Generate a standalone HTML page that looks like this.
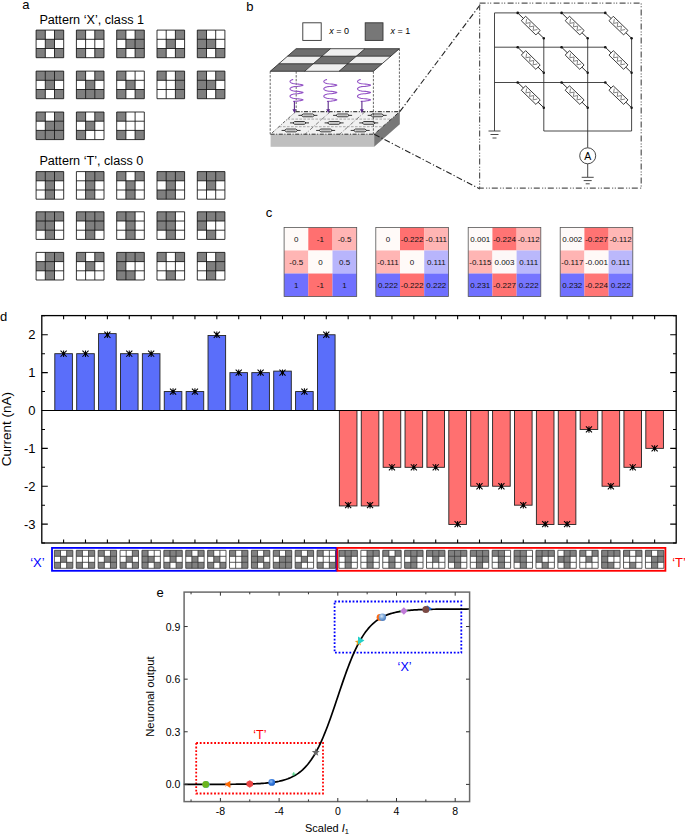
<!DOCTYPE html><html><head><meta charset="utf-8"><style>html,body{margin:0;padding:0;background:#fff;width:685px;height:835px;overflow:hidden}svg{display:block}text{font-family:"Liberation Sans", sans-serif}</style></head><body>
<svg width="685" height="835" viewBox="0 0 685 835">
<rect width="685" height="835" fill="#fff"/>
<text x="22.3" y="8.5" font-size="13">a</text>
<text x="39.4" y="23.6" font-size="12.65">Pattern ‘X’, class 1</text>
<text x="39.4" y="164.8" font-size="12.65">Pattern ‘T’, class 0</text>
<rect x="36.10" y="30.10" width="9.20" height="9.20" fill="#7f7f7f"/><rect x="54.50" y="30.10" width="9.20" height="9.20" fill="#7f7f7f"/><rect x="45.30" y="39.30" width="9.20" height="9.20" fill="#7f7f7f"/><rect x="36.10" y="48.50" width="9.20" height="9.20" fill="#7f7f7f"/><rect x="54.50" y="48.50" width="9.20" height="9.20" fill="#7f7f7f"/><path d="M36.10 30.10H63.70M36.10 30.10V57.70M36.10 39.30H63.70M45.30 30.10V57.70M36.10 48.50H63.70M54.50 30.10V57.70M36.10 57.70H63.70M63.70 30.10V57.70" stroke="#111" stroke-width="0.85" fill="none"/>
<rect x="76.40" y="30.10" width="9.20" height="9.20" fill="#7f7f7f"/><rect x="94.80" y="30.10" width="9.20" height="9.20" fill="#7f7f7f"/><rect x="76.40" y="48.50" width="9.20" height="9.20" fill="#7f7f7f"/><rect x="94.80" y="48.50" width="9.20" height="9.20" fill="#7f7f7f"/><path d="M76.40 30.10H104.00M76.40 30.10V57.70M76.40 39.30H104.00M85.60 30.10V57.70M76.40 48.50H104.00M94.80 30.10V57.70M76.40 57.70H104.00M104.00 30.10V57.70" stroke="#111" stroke-width="0.85" fill="none"/>
<rect x="116.70" y="30.10" width="9.20" height="9.20" fill="#7f7f7f"/><rect x="135.10" y="30.10" width="9.20" height="9.20" fill="#7f7f7f"/><rect x="125.90" y="39.30" width="9.20" height="9.20" fill="#7f7f7f"/><rect x="135.10" y="39.30" width="9.20" height="9.20" fill="#7f7f7f"/><rect x="116.70" y="48.50" width="9.20" height="9.20" fill="#7f7f7f"/><rect x="135.10" y="48.50" width="9.20" height="9.20" fill="#7f7f7f"/><path d="M116.70 30.10H144.30M116.70 30.10V57.70M116.70 39.30H144.30M125.90 30.10V57.70M116.70 48.50H144.30M135.10 30.10V57.70M116.70 57.70H144.30M144.30 30.10V57.70" stroke="#111" stroke-width="0.85" fill="none"/>
<rect x="175.40" y="30.10" width="9.20" height="9.20" fill="#7f7f7f"/><rect x="166.20" y="39.30" width="9.20" height="9.20" fill="#7f7f7f"/><rect x="157.00" y="48.50" width="9.20" height="9.20" fill="#7f7f7f"/><rect x="175.40" y="48.50" width="9.20" height="9.20" fill="#7f7f7f"/><path d="M157.00 30.10H184.60M157.00 30.10V57.70M157.00 39.30H184.60M166.20 30.10V57.70M157.00 48.50H184.60M175.40 30.10V57.70M157.00 57.70H184.60M184.60 30.10V57.70" stroke="#111" stroke-width="0.85" fill="none"/>
<rect x="197.30" y="30.10" width="9.20" height="9.20" fill="#7f7f7f"/><rect x="197.30" y="39.30" width="9.20" height="9.20" fill="#7f7f7f"/><rect x="206.50" y="39.30" width="9.20" height="9.20" fill="#7f7f7f"/><rect x="197.30" y="48.50" width="9.20" height="9.20" fill="#7f7f7f"/><rect x="215.70" y="48.50" width="9.20" height="9.20" fill="#7f7f7f"/><path d="M197.30 30.10H224.90M197.30 30.10V57.70M197.30 39.30H224.90M206.50 30.10V57.70M197.30 48.50H224.90M215.70 30.10V57.70M197.30 57.70H224.90M224.90 30.10V57.70" stroke="#111" stroke-width="0.85" fill="none"/>
<rect x="36.10" y="71.10" width="9.20" height="9.20" fill="#7f7f7f"/><rect x="45.30" y="71.10" width="9.20" height="9.20" fill="#7f7f7f"/><rect x="54.50" y="71.10" width="9.20" height="9.20" fill="#7f7f7f"/><rect x="45.30" y="80.30" width="9.20" height="9.20" fill="#7f7f7f"/><rect x="36.10" y="89.50" width="9.20" height="9.20" fill="#7f7f7f"/><rect x="54.50" y="89.50" width="9.20" height="9.20" fill="#7f7f7f"/><path d="M36.10 71.10H63.70M36.10 71.10V98.70M36.10 80.30H63.70M45.30 71.10V98.70M36.10 89.50H63.70M54.50 71.10V98.70M36.10 98.70H63.70M63.70 71.10V98.70" stroke="#111" stroke-width="0.85" fill="none"/>
<rect x="76.40" y="71.10" width="9.20" height="9.20" fill="#7f7f7f"/><rect x="94.80" y="71.10" width="9.20" height="9.20" fill="#7f7f7f"/><rect x="85.60" y="80.30" width="9.20" height="9.20" fill="#7f7f7f"/><rect x="76.40" y="89.50" width="9.20" height="9.20" fill="#7f7f7f"/><rect x="85.60" y="89.50" width="9.20" height="9.20" fill="#7f7f7f"/><rect x="94.80" y="89.50" width="9.20" height="9.20" fill="#7f7f7f"/><path d="M76.40 71.10H104.00M76.40 71.10V98.70M76.40 80.30H104.00M85.60 71.10V98.70M76.40 89.50H104.00M94.80 71.10V98.70M76.40 98.70H104.00M104.00 71.10V98.70" stroke="#111" stroke-width="0.85" fill="none"/>
<rect x="116.70" y="71.10" width="9.20" height="9.20" fill="#7f7f7f"/><rect x="125.90" y="80.30" width="9.20" height="9.20" fill="#7f7f7f"/><rect x="116.70" y="89.50" width="9.20" height="9.20" fill="#7f7f7f"/><rect x="135.10" y="89.50" width="9.20" height="9.20" fill="#7f7f7f"/><path d="M116.70 71.10H144.30M116.70 71.10V98.70M116.70 80.30H144.30M125.90 71.10V98.70M116.70 89.50H144.30M135.10 71.10V98.70M116.70 98.70H144.30M144.30 71.10V98.70" stroke="#111" stroke-width="0.85" fill="none"/>
<rect x="157.00" y="71.10" width="9.20" height="9.20" fill="#7f7f7f"/><rect x="175.40" y="71.10" width="9.20" height="9.20" fill="#7f7f7f"/><rect x="175.40" y="80.30" width="9.20" height="9.20" fill="#7f7f7f"/><rect x="175.40" y="89.50" width="9.20" height="9.20" fill="#7f7f7f"/><path d="M157.00 71.10H184.60M157.00 71.10V98.70M157.00 80.30H184.60M166.20 71.10V98.70M157.00 89.50H184.60M175.40 71.10V98.70M157.00 98.70H184.60M184.60 71.10V98.70" stroke="#111" stroke-width="0.85" fill="none"/>
<rect x="197.30" y="71.10" width="9.20" height="9.20" fill="#7f7f7f"/><rect x="215.70" y="71.10" width="9.20" height="9.20" fill="#7f7f7f"/><rect x="197.30" y="80.30" width="9.20" height="9.20" fill="#7f7f7f"/><rect x="206.50" y="80.30" width="9.20" height="9.20" fill="#7f7f7f"/><rect x="197.30" y="89.50" width="9.20" height="9.20" fill="#7f7f7f"/><rect x="215.70" y="89.50" width="9.20" height="9.20" fill="#7f7f7f"/><path d="M197.30 71.10H224.90M197.30 71.10V98.70M197.30 80.30H224.90M206.50 71.10V98.70M197.30 89.50H224.90M215.70 71.10V98.70M197.30 98.70H224.90M224.90 71.10V98.70" stroke="#111" stroke-width="0.85" fill="none"/>
<rect x="36.10" y="112.00" width="9.20" height="9.20" fill="#7f7f7f"/><rect x="54.50" y="112.00" width="9.20" height="9.20" fill="#7f7f7f"/><rect x="45.30" y="121.20" width="9.20" height="9.20" fill="#7f7f7f"/><rect x="54.50" y="121.20" width="9.20" height="9.20" fill="#7f7f7f"/><rect x="36.10" y="130.40" width="9.20" height="9.20" fill="#7f7f7f"/><rect x="45.30" y="130.40" width="9.20" height="9.20" fill="#7f7f7f"/><rect x="54.50" y="130.40" width="9.20" height="9.20" fill="#7f7f7f"/><path d="M36.10 112.00H63.70M36.10 112.00V139.60M36.10 121.20H63.70M45.30 112.00V139.60M36.10 130.40H63.70M54.50 112.00V139.60M36.10 139.60H63.70M63.70 112.00V139.60" stroke="#111" stroke-width="0.85" fill="none"/>
<rect x="76.40" y="112.00" width="9.20" height="9.20" fill="#7f7f7f"/><rect x="94.80" y="112.00" width="9.20" height="9.20" fill="#7f7f7f"/><rect x="85.60" y="121.20" width="9.20" height="9.20" fill="#7f7f7f"/><rect x="76.40" y="130.40" width="9.20" height="9.20" fill="#7f7f7f"/><path d="M76.40 112.00H104.00M76.40 112.00V139.60M76.40 121.20H104.00M85.60 112.00V139.60M76.40 130.40H104.00M94.80 112.00V139.60M76.40 139.60H104.00M104.00 112.00V139.60" stroke="#111" stroke-width="0.85" fill="none"/>
<rect x="116.70" y="112.00" width="9.20" height="9.20" fill="#7f7f7f"/><rect x="116.70" y="130.40" width="9.20" height="9.20" fill="#7f7f7f"/><rect x="135.10" y="130.40" width="9.20" height="9.20" fill="#7f7f7f"/><path d="M116.70 112.00H144.30M116.70 112.00V139.60M116.70 121.20H144.30M125.90 112.00V139.60M116.70 130.40H144.30M135.10 112.00V139.60M116.70 139.60H144.30M144.30 112.00V139.60" stroke="#111" stroke-width="0.85" fill="none"/>
<rect x="36.10" y="171.60" width="9.20" height="9.20" fill="#7f7f7f"/><rect x="45.30" y="171.60" width="9.20" height="9.20" fill="#7f7f7f"/><rect x="54.50" y="171.60" width="9.20" height="9.20" fill="#7f7f7f"/><rect x="45.30" y="180.80" width="9.20" height="9.20" fill="#7f7f7f"/><rect x="45.30" y="190.00" width="9.20" height="9.20" fill="#7f7f7f"/><path d="M36.10 171.60H63.70M36.10 171.60V199.20M36.10 180.80H63.70M45.30 171.60V199.20M36.10 190.00H63.70M54.50 171.60V199.20M36.10 199.20H63.70M63.70 171.60V199.20" stroke="#111" stroke-width="0.85" fill="none"/>
<rect x="85.60" y="171.60" width="9.20" height="9.20" fill="#7f7f7f"/><rect x="94.80" y="171.60" width="9.20" height="9.20" fill="#7f7f7f"/><rect x="85.60" y="180.80" width="9.20" height="9.20" fill="#7f7f7f"/><rect x="85.60" y="190.00" width="9.20" height="9.20" fill="#7f7f7f"/><path d="M76.40 171.60H104.00M76.40 171.60V199.20M76.40 180.80H104.00M85.60 171.60V199.20M76.40 190.00H104.00M94.80 171.60V199.20M76.40 199.20H104.00M104.00 171.60V199.20" stroke="#111" stroke-width="0.85" fill="none"/>
<rect x="116.70" y="171.60" width="9.20" height="9.20" fill="#7f7f7f"/><rect x="135.10" y="171.60" width="9.20" height="9.20" fill="#7f7f7f"/><rect x="125.90" y="180.80" width="9.20" height="9.20" fill="#7f7f7f"/><rect x="125.90" y="190.00" width="9.20" height="9.20" fill="#7f7f7f"/><path d="M116.70 171.60H144.30M116.70 171.60V199.20M116.70 180.80H144.30M125.90 171.60V199.20M116.70 190.00H144.30M135.10 171.60V199.20M116.70 199.20H144.30M144.30 171.60V199.20" stroke="#111" stroke-width="0.85" fill="none"/>
<rect x="157.00" y="171.60" width="9.20" height="9.20" fill="#7f7f7f"/><rect x="166.20" y="171.60" width="9.20" height="9.20" fill="#7f7f7f"/><rect x="175.40" y="171.60" width="9.20" height="9.20" fill="#7f7f7f"/><rect x="166.20" y="180.80" width="9.20" height="9.20" fill="#7f7f7f"/><rect x="157.00" y="190.00" width="9.20" height="9.20" fill="#7f7f7f"/><rect x="166.20" y="190.00" width="9.20" height="9.20" fill="#7f7f7f"/><path d="M157.00 171.60H184.60M157.00 171.60V199.20M157.00 180.80H184.60M166.20 171.60V199.20M157.00 190.00H184.60M175.40 171.60V199.20M157.00 199.20H184.60M184.60 171.60V199.20" stroke="#111" stroke-width="0.85" fill="none"/>
<rect x="197.30" y="171.60" width="9.20" height="9.20" fill="#7f7f7f"/><rect x="206.50" y="171.60" width="9.20" height="9.20" fill="#7f7f7f"/><rect x="215.70" y="171.60" width="9.20" height="9.20" fill="#7f7f7f"/><rect x="206.50" y="180.80" width="9.20" height="9.20" fill="#7f7f7f"/><path d="M197.30 171.60H224.90M197.30 171.60V199.20M197.30 180.80H224.90M206.50 171.60V199.20M197.30 190.00H224.90M215.70 171.60V199.20M197.30 199.20H224.90M224.90 171.60V199.20" stroke="#111" stroke-width="0.85" fill="none"/>
<rect x="36.10" y="211.80" width="9.20" height="9.20" fill="#7f7f7f"/><rect x="45.30" y="211.80" width="9.20" height="9.20" fill="#7f7f7f"/><rect x="54.50" y="211.80" width="9.20" height="9.20" fill="#7f7f7f"/><rect x="36.10" y="221.00" width="9.20" height="9.20" fill="#7f7f7f"/><rect x="45.30" y="221.00" width="9.20" height="9.20" fill="#7f7f7f"/><rect x="45.30" y="230.20" width="9.20" height="9.20" fill="#7f7f7f"/><path d="M36.10 211.80H63.70M36.10 211.80V239.40M36.10 221.00H63.70M45.30 211.80V239.40M36.10 230.20H63.70M54.50 211.80V239.40M36.10 239.40H63.70M63.70 211.80V239.40" stroke="#111" stroke-width="0.85" fill="none"/>
<rect x="76.40" y="211.80" width="9.20" height="9.20" fill="#7f7f7f"/><rect x="85.60" y="211.80" width="9.20" height="9.20" fill="#7f7f7f"/><rect x="94.80" y="211.80" width="9.20" height="9.20" fill="#7f7f7f"/><rect x="85.60" y="221.00" width="9.20" height="9.20" fill="#7f7f7f"/><rect x="94.80" y="221.00" width="9.20" height="9.20" fill="#7f7f7f"/><rect x="85.60" y="230.20" width="9.20" height="9.20" fill="#7f7f7f"/><path d="M76.40 211.80H104.00M76.40 211.80V239.40M76.40 221.00H104.00M85.60 211.80V239.40M76.40 230.20H104.00M94.80 211.80V239.40M76.40 239.40H104.00M104.00 211.80V239.40" stroke="#111" stroke-width="0.85" fill="none"/>
<rect x="116.70" y="211.80" width="9.20" height="9.20" fill="#7f7f7f"/><rect x="125.90" y="211.80" width="9.20" height="9.20" fill="#7f7f7f"/><rect x="125.90" y="221.00" width="9.20" height="9.20" fill="#7f7f7f"/><rect x="125.90" y="230.20" width="9.20" height="9.20" fill="#7f7f7f"/><path d="M116.70 211.80H144.30M116.70 211.80V239.40M116.70 221.00H144.30M125.90 211.80V239.40M116.70 230.20H144.30M135.10 211.80V239.40M116.70 239.40H144.30M144.30 211.80V239.40" stroke="#111" stroke-width="0.85" fill="none"/>
<rect x="157.00" y="211.80" width="9.20" height="9.20" fill="#7f7f7f"/><rect x="166.20" y="211.80" width="9.20" height="9.20" fill="#7f7f7f"/><rect x="157.00" y="221.00" width="9.20" height="9.20" fill="#7f7f7f"/><rect x="166.20" y="221.00" width="9.20" height="9.20" fill="#7f7f7f"/><rect x="166.20" y="230.20" width="9.20" height="9.20" fill="#7f7f7f"/><path d="M157.00 211.80H184.60M157.00 211.80V239.40M157.00 221.00H184.60M166.20 211.80V239.40M157.00 230.20H184.60M175.40 211.80V239.40M157.00 239.40H184.60M184.60 211.80V239.40" stroke="#111" stroke-width="0.85" fill="none"/>
<rect x="197.30" y="211.80" width="9.20" height="9.20" fill="#7f7f7f"/><rect x="206.50" y="211.80" width="9.20" height="9.20" fill="#7f7f7f"/><rect x="215.70" y="211.80" width="9.20" height="9.20" fill="#7f7f7f"/><rect x="197.30" y="221.00" width="9.20" height="9.20" fill="#7f7f7f"/><rect x="206.50" y="230.20" width="9.20" height="9.20" fill="#7f7f7f"/><path d="M197.30 211.80H224.90M197.30 211.80V239.40M197.30 221.00H224.90M206.50 211.80V239.40M197.30 230.20H224.90M215.70 211.80V239.40M197.30 239.40H224.90M224.90 211.80V239.40" stroke="#111" stroke-width="0.85" fill="none"/>
<rect x="45.30" y="252.40" width="9.20" height="9.20" fill="#7f7f7f"/><rect x="54.50" y="252.40" width="9.20" height="9.20" fill="#7f7f7f"/><rect x="36.10" y="261.60" width="9.20" height="9.20" fill="#7f7f7f"/><rect x="45.30" y="261.60" width="9.20" height="9.20" fill="#7f7f7f"/><rect x="45.30" y="270.80" width="9.20" height="9.20" fill="#7f7f7f"/><path d="M36.10 252.40H63.70M36.10 252.40V280.00M36.10 261.60H63.70M45.30 252.40V280.00M36.10 270.80H63.70M54.50 252.40V280.00M36.10 280.00H63.70M63.70 252.40V280.00" stroke="#111" stroke-width="0.85" fill="none"/>
<rect x="76.40" y="252.40" width="9.20" height="9.20" fill="#7f7f7f"/><rect x="94.80" y="252.40" width="9.20" height="9.20" fill="#7f7f7f"/><rect x="85.60" y="261.60" width="9.20" height="9.20" fill="#7f7f7f"/><path d="M76.40 252.40H104.00M76.40 252.40V280.00M76.40 261.60H104.00M85.60 252.40V280.00M76.40 270.80H104.00M94.80 252.40V280.00M76.40 280.00H104.00M104.00 252.40V280.00" stroke="#111" stroke-width="0.85" fill="none"/>
<rect x="116.70" y="252.40" width="9.20" height="9.20" fill="#7f7f7f"/><rect x="125.90" y="252.40" width="9.20" height="9.20" fill="#7f7f7f"/><rect x="135.10" y="252.40" width="9.20" height="9.20" fill="#7f7f7f"/><rect x="116.70" y="261.60" width="9.20" height="9.20" fill="#7f7f7f"/><rect x="116.70" y="270.80" width="9.20" height="9.20" fill="#7f7f7f"/><rect x="125.90" y="270.80" width="9.20" height="9.20" fill="#7f7f7f"/><path d="M116.70 252.40H144.30M116.70 252.40V280.00M116.70 261.60H144.30M125.90 252.40V280.00M116.70 270.80H144.30M135.10 252.40V280.00M116.70 280.00H144.30M144.30 252.40V280.00" stroke="#111" stroke-width="0.85" fill="none"/>
<rect x="157.00" y="252.40" width="9.20" height="9.20" fill="#7f7f7f"/><rect x="175.40" y="252.40" width="9.20" height="9.20" fill="#7f7f7f"/><rect x="166.20" y="270.80" width="9.20" height="9.20" fill="#7f7f7f"/><path d="M157.00 252.40H184.60M157.00 252.40V280.00M157.00 261.60H184.60M166.20 252.40V280.00M157.00 270.80H184.60M175.40 252.40V280.00M157.00 280.00H184.60M184.60 252.40V280.00" stroke="#111" stroke-width="0.85" fill="none"/>
<rect x="197.30" y="252.40" width="9.20" height="9.20" fill="#7f7f7f"/><rect x="215.70" y="252.40" width="9.20" height="9.20" fill="#7f7f7f"/><rect x="206.50" y="261.60" width="9.20" height="9.20" fill="#7f7f7f"/><rect x="215.70" y="261.60" width="9.20" height="9.20" fill="#7f7f7f"/><rect x="206.50" y="270.80" width="9.20" height="9.20" fill="#7f7f7f"/><path d="M197.30 252.40H224.90M197.30 252.40V280.00M197.30 261.60H224.90M206.50 252.40V280.00M197.30 270.80H224.90M215.70 252.40V280.00M197.30 280.00H224.90M224.90 252.40V280.00" stroke="#111" stroke-width="0.85" fill="none"/>
<text x="246.2" y="10.6" font-size="13">b</text>
<rect x="302.8" y="22.8" width="18.4" height="17.6" fill="#fff" stroke="#333" stroke-width="0.9"/>
<rect x="365.2" y="22.8" width="17.8" height="17.6" fill="#777" stroke="#333" stroke-width="0.9"/>
<text x="329.3" y="34.3" font-size="9"><tspan font-style="italic">x</tspan> = 0</text>
<text x="390.4" y="34.3" font-size="9"><tspan font-style="italic">x</tspan> = 1</text>
<polygon points="296.10,48.70 330.53,48.70 321.89,56.23 287.47,56.23" fill="#6e6e6e"/>
<polygon points="330.53,48.70 364.97,48.70 356.31,56.23 321.89,56.23" fill="#efefef"/>
<polygon points="364.97,48.70 399.40,48.70 390.73,56.23 356.31,56.23" fill="#6e6e6e"/>
<polygon points="287.47,56.23 321.89,56.23 313.24,63.77 278.83,63.77" fill="#efefef"/>
<polygon points="321.89,56.23 356.31,56.23 347.66,63.77 313.24,63.77" fill="#6e6e6e"/>
<polygon points="356.31,56.23 390.73,56.23 382.07,63.77 347.66,63.77" fill="#efefef"/>
<polygon points="278.83,63.77 313.24,63.77 304.60,71.30 270.20,71.30" fill="#6e6e6e"/>
<polygon points="313.24,63.77 347.66,63.77 339.00,71.30 304.60,71.30" fill="#efefef"/>
<polygon points="347.66,63.77 382.07,63.77 373.40,71.30 339.00,71.30" fill="#6e6e6e"/>
<path d="M296.10 48.70L399.40 48.70M296.10 48.70L270.20 71.30M287.47 56.23L390.73 56.23M330.53 48.70L304.60 71.30M278.83 63.77L382.07 63.77M364.97 48.70L339.00 71.30M270.20 71.30L373.40 71.30M399.40 48.70L373.40 71.30" stroke="#222" stroke-width="0.8" fill="none"/>
<polygon points="295.8,111.6 399.8,111.6 374.2,134.2 270.6,134.2" fill="#f1f1f1"/>
<rect x="270.6" y="134.2" width="103.6" height="12.6" fill="#bfbfbf"/>
<polygon points="374.2,134.2 399.8,111.6 399.8,124.3 374.2,146.8" fill="#787878"/>
<path d="M287.40 119.13L391.27 119.13M279.00 126.67L382.73 126.67" stroke="#b8b8b8" stroke-width="1.4" stroke-dasharray="2.6 1.4" fill="none"/>
<path d="M330.47 111.60L305.13 134.20M365.13 111.60L339.67 134.20" stroke="#333" stroke-width="0.6" stroke-dasharray="4 1.5 0.8 1.5" fill="none"/>
<path d="M298.42 115.37H317.42" stroke="#222" stroke-width="0.9"/>
<polygon points="301.42,115.37 303.12,113.97 312.72,113.97 314.42,115.37 312.72,116.77 303.12,116.77" fill="#e4e4e4" stroke="#111" stroke-width="0.8"/>
<path d="M303.42 115.37H312.42" stroke="#999" stroke-width="0.5"/>
<path d="M333.07 115.37H352.07" stroke="#222" stroke-width="0.9"/>
<polygon points="336.07,115.37 337.77,113.97 347.37,113.97 349.07,115.37 347.37,116.77 337.77,116.77" fill="#e4e4e4" stroke="#111" stroke-width="0.8"/>
<path d="M338.07 115.37H347.07" stroke="#999" stroke-width="0.5"/>
<path d="M367.71 115.37H386.71" stroke="#222" stroke-width="0.9"/>
<polygon points="370.71,115.37 372.41,113.97 382.01,113.97 383.71,115.37 382.01,116.77 372.41,116.77" fill="#e4e4e4" stroke="#111" stroke-width="0.8"/>
<path d="M372.71 115.37H381.71" stroke="#999" stroke-width="0.5"/>
<path d="M290.00 122.90H309.00" stroke="#222" stroke-width="0.9"/>
<polygon points="293.00,122.90 294.70,121.50 304.30,121.50 306.00,122.90 304.30,124.30 294.70,124.30" fill="#e4e4e4" stroke="#111" stroke-width="0.8"/>
<path d="M295.00 122.90H304.00" stroke="#999" stroke-width="0.5"/>
<path d="M324.60 122.90H343.60" stroke="#222" stroke-width="0.9"/>
<polygon points="327.60,122.90 329.30,121.50 338.90,121.50 340.60,122.90 338.90,124.30 329.30,124.30" fill="#e4e4e4" stroke="#111" stroke-width="0.8"/>
<path d="M329.60 122.90H338.60" stroke="#999" stroke-width="0.5"/>
<path d="M359.20 122.90H378.20" stroke="#222" stroke-width="0.9"/>
<polygon points="362.20,122.90 363.90,121.50 373.50,121.50 375.20,122.90 373.50,124.30 363.90,124.30" fill="#e4e4e4" stroke="#111" stroke-width="0.8"/>
<path d="M364.20 122.90H373.20" stroke="#999" stroke-width="0.5"/>
<path d="M281.58 130.43H300.58" stroke="#222" stroke-width="0.9"/>
<polygon points="284.58,130.43 286.28,129.03 295.88,129.03 297.58,130.43 295.88,131.83 286.28,131.83" fill="#e4e4e4" stroke="#111" stroke-width="0.8"/>
<path d="M286.58 130.43H295.58" stroke="#999" stroke-width="0.5"/>
<path d="M316.13 130.43H335.13" stroke="#222" stroke-width="0.9"/>
<polygon points="319.13,130.43 320.83,129.03 330.43,129.03 332.13,130.43 330.43,131.83 320.83,131.83" fill="#e4e4e4" stroke="#111" stroke-width="0.8"/>
<path d="M321.13 130.43H330.13" stroke="#999" stroke-width="0.5"/>
<path d="M350.69 130.43H369.69" stroke="#222" stroke-width="0.9"/>
<polygon points="353.69,130.43 355.39,129.03 364.99,129.03 366.69,130.43 364.99,131.83 355.39,131.83" fill="#e4e4e4" stroke="#111" stroke-width="0.8"/>
<path d="M355.69 130.43H364.69" stroke="#999" stroke-width="0.5"/>
<path d="M295.8 111.6L399.8 111.6" stroke="#444" stroke-width="1.3" stroke-dasharray="4 1.6 1 1.6" fill="none"/>
<path d="M270.6 134.2L374.2 134.2 L399.8 111.6" stroke="#333" stroke-width="1" stroke-dasharray="4 1.6 1 1.6" fill="none"/>
<path d="M295.8 111.6L270.6 134.2" stroke="#333" stroke-width="0.8" stroke-dasharray="3 1.6 1 1.6" fill="none"/>
<path d="M270.2 71.3V134.2M373.4 71.3V134.2M296.2 71.3V111.6M399.4 48.7V111.6" stroke="#333" stroke-width="0.75" stroke-dasharray="2.4 1.4" fill="none"/>
<path d="M293.19 79.48 L292.56 79.65 L292.03 79.82 L291.56 80.00 L291.17 80.18 L290.83 80.37 L290.56 80.57 L290.34 80.77 L290.17 80.98 L290.06 81.18 L290.01 81.39 L290.01 81.60 L290.06 81.81 L290.17 82.01 L290.33 82.22 L290.54 82.42 L290.82 82.62 L291.15 82.81 L291.54 82.99 L292.00 83.17 L292.53 83.35 L293.16 83.51 L293.90 83.67 L294.86 83.82 L297.06 83.96 L298.45 84.09 L299.33 84.21 L300.03 84.33 L300.63 84.44 L301.14 84.54 L301.57 84.63 L301.95 84.72 L302.26 84.80 L302.52 84.88 L302.72 84.96 L302.87 85.03 L302.96 85.10 L303.00 85.16 L302.98 85.23 L302.91 85.30 L302.79 85.37 L302.61 85.44 L302.37 85.52 L302.08 85.60 L301.73 85.68 L301.31 85.77 L300.83 85.87 L300.27 85.98 L299.61 86.09 L298.81 86.21 L297.72 86.34 L295.35 86.48 L294.23 86.63 L293.42 86.78 L292.76 86.94 L292.20 87.11 L291.71 87.29 L291.29 87.47 L290.94 87.66 L290.64 87.86 L290.40 88.06 L290.22 88.26 L290.09 88.46 L290.02 88.67 L290.00 88.88 L290.04 89.09 L290.12 89.30 L290.27 89.50 L290.47 89.70 L290.72 89.90 L291.03 90.10 L291.40 90.28 L291.84 90.46 L292.35 90.64 L292.94 90.81 L293.63 90.97 L294.50 91.12 L295.83 91.26 L298.08 91.40 L299.06 91.52 L299.81 91.64 L300.44 91.75 L300.97 91.86 L301.44 91.95 L301.83 92.04 L302.17 92.13 L302.44 92.21 L302.66 92.28 L302.83 92.35 L302.94 92.42 L302.99 92.49 L302.99 92.56 L302.94 92.63 L302.83 92.70 L302.67 92.77 L302.46 92.84 L302.18 92.92 L301.85 93.00 L301.46 93.09 L301.00 93.19 L300.47 93.29 L299.84 93.40 L299.10 93.52 L298.14 93.65 L295.94 93.78 L294.55 93.93 L293.67 94.08 L292.97 94.24 L292.37 94.41 L291.86 94.58 L291.43 94.76 L291.05 94.95 L290.74 95.14 L290.48 95.34 L290.28 95.54 L290.13 95.75 L290.04 95.95 L290.00 96.16 L290.02 96.37 L290.09 96.58 L290.21 96.78 L290.39 96.99 L290.63 97.19 L290.92 97.38 L291.27 97.57 L291.69 97.76 L292.17 97.93 L292.73 98.10 L293.39 98.27 L294.19 98.42 L295.28 98.57 L297.65 98.70 L298.77 98.83 L299.58 98.96 L300.24 99.07 L300.80 99.18 L301.29 99.27 L301.71 99.37 L302.06 99.45 L302.36 99.53 L302.60 99.61 L302.78 99.68 L302.91 99.75 L302.98 99.82 L303.00 99.89 L302.96 99.96 L302.88 100.02 L302.73 100.09 L302.53 100.17 L302.28 100.25 L301.97 100.33 L301.60 100.42 L301.16 100.51 L300.65 100.61 L300.06 100.72 L299.37 100.83 L298.50 100.96 L297.17 101.09 L294.92 101.23 L293.94 101.38 L293.19 101.54" stroke="#9454c6" stroke-width="1.1" fill="none"/>
<path d="M294.40 101.24V110.50" stroke="#5a2a88" stroke-width="1.1"/>
<polygon points="292.40,109.20 296.40,109.20 294.40,113.00" fill="#5a2a88"/>
<path d="M326.99 79.48 L326.36 79.65 L325.83 79.82 L325.36 80.00 L324.97 80.18 L324.63 80.37 L324.36 80.57 L324.14 80.77 L323.97 80.98 L323.86 81.18 L323.81 81.39 L323.81 81.60 L323.86 81.81 L323.97 82.01 L324.13 82.22 L324.34 82.42 L324.62 82.62 L324.95 82.81 L325.34 82.99 L325.80 83.17 L326.33 83.35 L326.96 83.51 L327.70 83.67 L328.66 83.82 L330.86 83.96 L332.25 84.09 L333.13 84.21 L333.83 84.33 L334.43 84.44 L334.94 84.54 L335.37 84.63 L335.75 84.72 L336.06 84.80 L336.32 84.88 L336.52 84.96 L336.67 85.03 L336.76 85.10 L336.80 85.16 L336.78 85.23 L336.71 85.30 L336.59 85.37 L336.41 85.44 L336.17 85.52 L335.88 85.60 L335.53 85.68 L335.11 85.77 L334.63 85.87 L334.07 85.98 L333.41 86.09 L332.61 86.21 L331.52 86.34 L329.15 86.48 L328.03 86.63 L327.22 86.78 L326.56 86.94 L326.00 87.11 L325.51 87.29 L325.09 87.47 L324.74 87.66 L324.44 87.86 L324.20 88.06 L324.02 88.26 L323.89 88.46 L323.82 88.67 L323.80 88.88 L323.84 89.09 L323.92 89.30 L324.07 89.50 L324.27 89.70 L324.52 89.90 L324.83 90.10 L325.20 90.28 L325.64 90.46 L326.15 90.64 L326.74 90.81 L327.43 90.97 L328.30 91.12 L329.63 91.26 L331.88 91.40 L332.86 91.52 L333.61 91.64 L334.24 91.75 L334.77 91.86 L335.24 91.95 L335.63 92.04 L335.97 92.13 L336.24 92.21 L336.46 92.28 L336.63 92.35 L336.74 92.42 L336.79 92.49 L336.79 92.56 L336.74 92.63 L336.63 92.70 L336.47 92.77 L336.26 92.84 L335.98 92.92 L335.65 93.00 L335.26 93.09 L334.80 93.19 L334.27 93.29 L333.64 93.40 L332.90 93.52 L331.94 93.65 L329.74 93.78 L328.35 93.93 L327.47 94.08 L326.77 94.24 L326.17 94.41 L325.66 94.58 L325.23 94.76 L324.85 94.95 L324.54 95.14 L324.28 95.34 L324.08 95.54 L323.93 95.75 L323.84 95.95 L323.80 96.16 L323.82 96.37 L323.89 96.58 L324.01 96.78 L324.19 96.99 L324.43 97.19 L324.72 97.38 L325.07 97.57 L325.49 97.76 L325.97 97.93 L326.53 98.10 L327.19 98.27 L327.99 98.42 L329.08 98.57 L331.45 98.70 L332.57 98.83 L333.38 98.96 L334.04 99.07 L334.60 99.18 L335.09 99.27 L335.51 99.37 L335.86 99.45 L336.16 99.53 L336.40 99.61 L336.58 99.68 L336.71 99.75 L336.78 99.82 L336.80 99.89 L336.76 99.96 L336.68 100.02 L336.53 100.09 L336.33 100.17 L336.08 100.25 L335.77 100.33 L335.40 100.42 L334.96 100.51 L334.45 100.61 L333.86 100.72 L333.17 100.83 L332.30 100.96 L330.97 101.09 L328.72 101.23 L327.74 101.38 L326.99 101.54" stroke="#9454c6" stroke-width="1.1" fill="none"/>
<path d="M328.20 101.24V110.50" stroke="#5a2a88" stroke-width="1.1"/>
<polygon points="326.20,109.20 330.20,109.20 328.20,113.00" fill="#5a2a88"/>
<path d="M360.69 79.48 L360.06 79.65 L359.53 79.82 L359.06 80.00 L358.67 80.18 L358.33 80.37 L358.06 80.57 L357.84 80.77 L357.67 80.98 L357.56 81.18 L357.51 81.39 L357.51 81.60 L357.56 81.81 L357.67 82.01 L357.83 82.22 L358.04 82.42 L358.32 82.62 L358.65 82.81 L359.04 82.99 L359.50 83.17 L360.03 83.35 L360.66 83.51 L361.40 83.67 L362.36 83.82 L364.56 83.96 L365.95 84.09 L366.83 84.21 L367.53 84.33 L368.13 84.44 L368.64 84.54 L369.07 84.63 L369.45 84.72 L369.76 84.80 L370.02 84.88 L370.22 84.96 L370.37 85.03 L370.46 85.10 L370.50 85.16 L370.48 85.23 L370.41 85.30 L370.29 85.37 L370.11 85.44 L369.87 85.52 L369.58 85.60 L369.23 85.68 L368.81 85.77 L368.33 85.87 L367.77 85.98 L367.11 86.09 L366.31 86.21 L365.22 86.34 L362.85 86.48 L361.73 86.63 L360.92 86.78 L360.26 86.94 L359.70 87.11 L359.21 87.29 L358.79 87.47 L358.44 87.66 L358.14 87.86 L357.90 88.06 L357.72 88.26 L357.59 88.46 L357.52 88.67 L357.50 88.88 L357.54 89.09 L357.62 89.30 L357.77 89.50 L357.97 89.70 L358.22 89.90 L358.53 90.10 L358.90 90.28 L359.34 90.46 L359.85 90.64 L360.44 90.81 L361.13 90.97 L362.00 91.12 L363.33 91.26 L365.58 91.40 L366.56 91.52 L367.31 91.64 L367.94 91.75 L368.47 91.86 L368.94 91.95 L369.33 92.04 L369.67 92.13 L369.94 92.21 L370.16 92.28 L370.33 92.35 L370.44 92.42 L370.49 92.49 L370.49 92.56 L370.44 92.63 L370.33 92.70 L370.17 92.77 L369.96 92.84 L369.68 92.92 L369.35 93.00 L368.96 93.09 L368.50 93.19 L367.97 93.29 L367.34 93.40 L366.60 93.52 L365.64 93.65 L363.44 93.78 L362.05 93.93 L361.17 94.08 L360.47 94.24 L359.87 94.41 L359.36 94.58 L358.93 94.76 L358.55 94.95 L358.24 95.14 L357.98 95.34 L357.78 95.54 L357.63 95.75 L357.54 95.95 L357.50 96.16 L357.52 96.37 L357.59 96.58 L357.71 96.78 L357.89 96.99 L358.13 97.19 L358.42 97.38 L358.77 97.57 L359.19 97.76 L359.67 97.93 L360.23 98.10 L360.89 98.27 L361.69 98.42 L362.78 98.57 L365.15 98.70 L366.27 98.83 L367.08 98.96 L367.74 99.07 L368.30 99.18 L368.79 99.27 L369.21 99.37 L369.56 99.45 L369.86 99.53 L370.10 99.61 L370.28 99.68 L370.41 99.75 L370.48 99.82 L370.50 99.89 L370.46 99.96 L370.38 100.02 L370.23 100.09 L370.03 100.17 L369.78 100.25 L369.47 100.33 L369.10 100.42 L368.66 100.51 L368.15 100.61 L367.56 100.72 L366.87 100.83 L366.00 100.96 L364.67 101.09 L362.42 101.23 L361.44 101.38 L360.69 101.54" stroke="#9454c6" stroke-width="1.1" fill="none"/>
<path d="M361.90 101.24V110.50" stroke="#5a2a88" stroke-width="1.1"/>
<polygon points="359.90,109.20 363.90,109.20 361.90,113.00" fill="#5a2a88"/>
<path d="M399.8 111.6L480 5M374.2 134.2L480 189" stroke="#222" stroke-width="1.1" stroke-dasharray="6 2.2 1.2 2.2" fill="none"/>
<rect x="479.6" y="3.2" width="161.6" height="185" fill="none" stroke="#555" stroke-width="1.2" stroke-dasharray="6 2 1 1.6 1 2.4"/>
<path d="M494.5 12.9V131M494.5 12.9H605.3M494.5 47.2H605.3M494.5 82.5H605.3M543.8 38.3V131M587.7 38.3V131M631.6 38.3V131M543.8 131H631.6M587.7 131V147.8M587.7 163.8V177M488.5 131H500.5M490.5 134.5H498.5M492.5 138H496.5M581.7 177.3H593.7M583.7 180.6H591.7M585.7 183.8H589.7" stroke="#333" stroke-width="0.9" fill="none"/>
<circle cx="587.7" cy="155.8" r="8" fill="#fff" stroke="#333" stroke-width="0.9"/>
<text x="587.7" y="159.6" font-size="10.5" text-anchor="middle">A</text>
<circle cx="517.7" cy="12.9" r="1.3" fill="#111"/>
<circle cx="543.8" cy="38.3" r="1.2" fill="#111"/>
<g transform="translate(530.75 25.60) rotate(44.22)"><path d="M-18.21 0H18.21" stroke="#222" stroke-width="0.9"/><rect x="-10.2" y="-3.1" width="20.4" height="6.2" fill="#fff" stroke="#333" stroke-width="0.9"/><path d="M-7.5 -1.8 L-5.00 1.80 L-2.50 -1.80 L0.00 1.80 L2.50 -1.80 L5.00 1.80 L7.50 -1.80" stroke="#666" stroke-width="0.75" fill="none"/></g>
<circle cx="561.6" cy="12.9" r="1.3" fill="#111"/>
<circle cx="587.7" cy="38.3" r="1.2" fill="#111"/>
<g transform="translate(574.65 25.60) rotate(44.22)"><path d="M-18.21 0H18.21" stroke="#222" stroke-width="0.9"/><rect x="-10.2" y="-3.1" width="20.4" height="6.2" fill="#fff" stroke="#333" stroke-width="0.9"/><path d="M-7.5 -1.8 L-5.00 1.80 L-2.50 -1.80 L0.00 1.80 L2.50 -1.80 L5.00 1.80 L7.50 -1.80" stroke="#666" stroke-width="0.75" fill="none"/></g>
<circle cx="605.3" cy="12.9" r="1.3" fill="#111"/>
<circle cx="631.6" cy="38.3" r="1.2" fill="#111"/>
<g transform="translate(618.45 25.60) rotate(44.00)"><path d="M-18.28 0H18.28" stroke="#222" stroke-width="0.9"/><rect x="-10.2" y="-3.1" width="20.4" height="6.2" fill="#fff" stroke="#333" stroke-width="0.9"/><path d="M-7.5 -1.8 L-5.00 1.80 L-2.50 -1.80 L0.00 1.80 L2.50 -1.80 L5.00 1.80 L7.50 -1.80" stroke="#666" stroke-width="0.75" fill="none"/></g>
<circle cx="517.7" cy="47.2" r="1.3" fill="#111"/>
<circle cx="543.8" cy="72.8" r="1.2" fill="#111"/>
<g transform="translate(530.75 60.00) rotate(44.45)"><path d="M-18.28 0H18.28" stroke="#222" stroke-width="0.9"/><rect x="-10.2" y="-3.1" width="20.4" height="6.2" fill="#fff" stroke="#333" stroke-width="0.9"/><path d="M-7.5 -1.8 L-5.00 1.80 L-2.50 -1.80 L0.00 1.80 L2.50 -1.80 L5.00 1.80 L7.50 -1.80" stroke="#666" stroke-width="0.75" fill="none"/></g>
<circle cx="561.6" cy="47.2" r="1.3" fill="#111"/>
<circle cx="587.7" cy="72.8" r="1.2" fill="#111"/>
<g transform="translate(574.65 60.00) rotate(44.45)"><path d="M-18.28 0H18.28" stroke="#222" stroke-width="0.9"/><rect x="-10.2" y="-3.1" width="20.4" height="6.2" fill="#fff" stroke="#333" stroke-width="0.9"/><path d="M-7.5 -1.8 L-5.00 1.80 L-2.50 -1.80 L0.00 1.80 L2.50 -1.80 L5.00 1.80 L7.50 -1.80" stroke="#666" stroke-width="0.75" fill="none"/></g>
<circle cx="605.3" cy="47.2" r="1.3" fill="#111"/>
<circle cx="631.6" cy="72.8" r="1.2" fill="#111"/>
<g transform="translate(618.45 60.00) rotate(44.23)"><path d="M-18.35 0H18.35" stroke="#222" stroke-width="0.9"/><rect x="-10.2" y="-3.1" width="20.4" height="6.2" fill="#fff" stroke="#333" stroke-width="0.9"/><path d="M-7.5 -1.8 L-5.00 1.80 L-2.50 -1.80 L0.00 1.80 L2.50 -1.80 L5.00 1.80 L7.50 -1.80" stroke="#666" stroke-width="0.75" fill="none"/></g>
<circle cx="517.7" cy="82.5" r="1.3" fill="#111"/>
<circle cx="543.8" cy="107.7" r="1.2" fill="#111"/>
<g transform="translate(530.75 95.10) rotate(43.99)"><path d="M-18.14 0H18.14" stroke="#222" stroke-width="0.9"/><rect x="-10.2" y="-3.1" width="20.4" height="6.2" fill="#fff" stroke="#333" stroke-width="0.9"/><path d="M-7.5 -1.8 L-5.00 1.80 L-2.50 -1.80 L0.00 1.80 L2.50 -1.80 L5.00 1.80 L7.50 -1.80" stroke="#666" stroke-width="0.75" fill="none"/></g>
<circle cx="561.6" cy="82.5" r="1.3" fill="#111"/>
<circle cx="587.7" cy="107.7" r="1.2" fill="#111"/>
<g transform="translate(574.65 95.10) rotate(43.99)"><path d="M-18.14 0H18.14" stroke="#222" stroke-width="0.9"/><rect x="-10.2" y="-3.1" width="20.4" height="6.2" fill="#fff" stroke="#333" stroke-width="0.9"/><path d="M-7.5 -1.8 L-5.00 1.80 L-2.50 -1.80 L0.00 1.80 L2.50 -1.80 L5.00 1.80 L7.50 -1.80" stroke="#666" stroke-width="0.75" fill="none"/></g>
<circle cx="605.3" cy="82.5" r="1.3" fill="#111"/>
<circle cx="631.6" cy="107.7" r="1.2" fill="#111"/>
<g transform="translate(618.45 95.10) rotate(43.78)"><path d="M-18.21 0H18.21" stroke="#222" stroke-width="0.9"/><rect x="-10.2" y="-3.1" width="20.4" height="6.2" fill="#fff" stroke="#333" stroke-width="0.9"/><path d="M-7.5 -1.8 L-5.00 1.80 L-2.50 -1.80 L0.00 1.80 L2.50 -1.80 L5.00 1.80 L7.50 -1.80" stroke="#666" stroke-width="0.75" fill="none"/></g>
<text x="265.8" y="217.2" font-size="13">c</text>
<rect x="284.10" y="227.40" width="24.25" height="23.12" fill="#fffaf8"/>
<text x="296.20" y="241.83" font-size="8" text-anchor="middle" fill="#111">0</text>
<rect x="308.30" y="227.40" width="24.25" height="23.12" fill="#ff7070"/>
<text x="320.40" y="241.83" font-size="8" text-anchor="middle" fill="#111">-1</text>
<rect x="332.50" y="227.40" width="24.25" height="23.12" fill="#ffb5b4"/>
<text x="344.60" y="241.83" font-size="8" text-anchor="middle" fill="#111">-0.5</text>
<rect x="284.10" y="250.47" width="24.25" height="23.12" fill="#ffb5b4"/>
<text x="296.20" y="264.90" font-size="8" text-anchor="middle" fill="#111">-0.5</text>
<rect x="308.30" y="250.47" width="24.25" height="23.12" fill="#fffaf8"/>
<text x="320.40" y="264.90" font-size="8" text-anchor="middle" fill="#111">0</text>
<rect x="332.50" y="250.47" width="24.25" height="23.12" fill="#b8b5fc"/>
<text x="344.60" y="264.90" font-size="8" text-anchor="middle" fill="#111">0.5</text>
<rect x="284.10" y="273.53" width="24.25" height="23.12" fill="#7070ff"/>
<text x="296.20" y="287.97" font-size="8" text-anchor="middle" fill="#111">1</text>
<rect x="308.30" y="273.53" width="24.25" height="23.12" fill="#ff7070"/>
<text x="320.40" y="287.97" font-size="8" text-anchor="middle" fill="#111">-1</text>
<rect x="332.50" y="273.53" width="24.25" height="23.12" fill="#7070ff"/>
<text x="344.60" y="287.97" font-size="8" text-anchor="middle" fill="#111">1</text>
<rect x="284.10" y="227.40" width="72.60" height="69.20" fill="none" stroke="#555" stroke-width="0.8"/>
<rect x="375.80" y="227.40" width="24.25" height="23.12" fill="#fffaf8"/>
<text x="387.90" y="241.83" font-size="8" text-anchor="middle" fill="#111">0</text>
<rect x="400.00" y="227.40" width="24.25" height="23.12" fill="#ff7070"/>
<text x="412.10" y="241.83" font-size="8" text-anchor="middle" fill="#111">-0.222</text>
<rect x="424.20" y="227.40" width="24.25" height="23.12" fill="#ffb5b4"/>
<text x="436.30" y="241.83" font-size="8" text-anchor="middle" fill="#111">-0.111</text>
<rect x="375.80" y="250.47" width="24.25" height="23.12" fill="#ffb5b4"/>
<text x="387.90" y="264.90" font-size="8" text-anchor="middle" fill="#111">-0.111</text>
<rect x="400.00" y="250.47" width="24.25" height="23.12" fill="#fffaf8"/>
<text x="412.10" y="264.90" font-size="8" text-anchor="middle" fill="#111">0</text>
<rect x="424.20" y="250.47" width="24.25" height="23.12" fill="#b8b5fc"/>
<text x="436.30" y="264.90" font-size="8" text-anchor="middle" fill="#111">0.111</text>
<rect x="375.80" y="273.53" width="24.25" height="23.12" fill="#7070ff"/>
<text x="387.90" y="287.97" font-size="8" text-anchor="middle" fill="#111">0.222</text>
<rect x="400.00" y="273.53" width="24.25" height="23.12" fill="#ff7070"/>
<text x="412.10" y="287.97" font-size="8" text-anchor="middle" fill="#111">-0.222</text>
<rect x="424.20" y="273.53" width="24.25" height="23.12" fill="#7070ff"/>
<text x="436.30" y="287.97" font-size="8" text-anchor="middle" fill="#111">0.222</text>
<rect x="375.80" y="227.40" width="72.60" height="69.20" fill="none" stroke="#555" stroke-width="0.8"/>
<rect x="468.20" y="227.40" width="24.25" height="23.12" fill="#fef9f8"/>
<text x="480.30" y="241.83" font-size="8" text-anchor="middle" fill="#111">0.001</text>
<rect x="492.40" y="227.40" width="24.25" height="23.12" fill="#ff7474"/>
<text x="504.50" y="241.83" font-size="8" text-anchor="middle" fill="#111">-0.224</text>
<rect x="516.60" y="227.40" width="24.25" height="23.12" fill="#ffb7b6"/>
<text x="528.70" y="241.83" font-size="8" text-anchor="middle" fill="#111">-0.112</text>
<rect x="468.20" y="250.47" width="24.25" height="23.12" fill="#ffb5b4"/>
<text x="480.30" y="264.90" font-size="8" text-anchor="middle" fill="#111">-0.115</text>
<rect x="492.40" y="250.47" width="24.25" height="23.12" fill="#fdf8f8"/>
<text x="504.50" y="264.90" font-size="8" text-anchor="middle" fill="#111">0.003</text>
<rect x="516.60" y="250.47" width="24.25" height="23.12" fill="#bab8fb"/>
<text x="528.70" y="264.90" font-size="8" text-anchor="middle" fill="#111">0.111</text>
<rect x="468.20" y="273.53" width="24.25" height="23.12" fill="#7070ff"/>
<text x="480.30" y="287.97" font-size="8" text-anchor="middle" fill="#111">0.231</text>
<rect x="492.40" y="273.53" width="24.25" height="23.12" fill="#ff7272"/>
<text x="504.50" y="287.97" font-size="8" text-anchor="middle" fill="#111">-0.227</text>
<rect x="516.60" y="273.53" width="24.25" height="23.12" fill="#7675ff"/>
<text x="528.70" y="287.97" font-size="8" text-anchor="middle" fill="#111">0.222</text>
<rect x="468.20" y="227.40" width="72.60" height="69.20" fill="none" stroke="#555" stroke-width="0.8"/>
<rect x="560.20" y="227.40" width="24.25" height="23.12" fill="#fef9f8"/>
<text x="572.30" y="241.83" font-size="8" text-anchor="middle" fill="#111">0.002</text>
<rect x="584.40" y="227.40" width="24.25" height="23.12" fill="#ff7373"/>
<text x="596.50" y="241.83" font-size="8" text-anchor="middle" fill="#111">-0.227</text>
<rect x="608.60" y="227.40" width="24.25" height="23.12" fill="#ffb7b6"/>
<text x="620.70" y="241.83" font-size="8" text-anchor="middle" fill="#111">-0.112</text>
<rect x="560.20" y="250.47" width="24.25" height="23.12" fill="#ffb4b3"/>
<text x="572.30" y="264.90" font-size="8" text-anchor="middle" fill="#111">-0.117</text>
<rect x="584.40" y="250.47" width="24.25" height="23.12" fill="#fff9f7"/>
<text x="596.50" y="264.90" font-size="8" text-anchor="middle" fill="#111">-0.001</text>
<rect x="608.60" y="250.47" width="24.25" height="23.12" fill="#bbb8fb"/>
<text x="620.70" y="264.90" font-size="8" text-anchor="middle" fill="#111">0.111</text>
<rect x="560.20" y="273.53" width="24.25" height="23.12" fill="#7070ff"/>
<text x="572.30" y="287.97" font-size="8" text-anchor="middle" fill="#111">0.232</text>
<rect x="584.40" y="273.53" width="24.25" height="23.12" fill="#ff7575"/>
<text x="596.50" y="287.97" font-size="8" text-anchor="middle" fill="#111">-0.224</text>
<rect x="608.60" y="273.53" width="24.25" height="23.12" fill="#7676ff"/>
<text x="620.70" y="287.97" font-size="8" text-anchor="middle" fill="#111">0.222</text>
<rect x="560.20" y="227.40" width="72.60" height="69.20" fill="none" stroke="#555" stroke-width="0.8"/>
<text x="0" y="320.5" font-size="13">d</text>
<rect x="54.80" y="353.69" width="17.60" height="56.81" fill="#5a6efa" stroke="#222" stroke-width="0.9"/>
<rect x="76.69" y="353.69" width="17.60" height="56.81" fill="#5a6efa" stroke="#222" stroke-width="0.9"/>
<rect x="98.58" y="333.62" width="17.60" height="76.88" fill="#5a6efa" stroke="#222" stroke-width="0.9"/>
<rect x="120.47" y="353.69" width="17.60" height="56.81" fill="#5a6efa" stroke="#222" stroke-width="0.9"/>
<rect x="142.36" y="353.69" width="17.60" height="56.81" fill="#5a6efa" stroke="#222" stroke-width="0.9"/>
<rect x="164.25" y="391.56" width="17.60" height="18.94" fill="#5a6efa" stroke="#222" stroke-width="0.9"/>
<rect x="186.14" y="391.56" width="17.60" height="18.94" fill="#5a6efa" stroke="#222" stroke-width="0.9"/>
<rect x="208.03" y="335.52" width="17.60" height="74.98" fill="#5a6efa" stroke="#222" stroke-width="0.9"/>
<rect x="229.92" y="372.63" width="17.60" height="37.87" fill="#5a6efa" stroke="#222" stroke-width="0.9"/>
<rect x="251.81" y="372.63" width="17.60" height="37.87" fill="#5a6efa" stroke="#222" stroke-width="0.9"/>
<rect x="273.70" y="371.12" width="17.60" height="39.38" fill="#5a6efa" stroke="#222" stroke-width="0.9"/>
<rect x="295.59" y="391.56" width="17.60" height="18.94" fill="#5a6efa" stroke="#222" stroke-width="0.9"/>
<rect x="317.48" y="334.76" width="17.60" height="75.74" fill="#5a6efa" stroke="#222" stroke-width="0.9"/>
<rect x="339.37" y="410.50" width="17.60" height="95.43" fill="#ff7070" stroke="#222" stroke-width="0.9"/>
<rect x="361.26" y="410.50" width="17.60" height="95.43" fill="#ff7070" stroke="#222" stroke-width="0.9"/>
<rect x="383.15" y="410.50" width="17.60" height="56.81" fill="#ff7070" stroke="#222" stroke-width="0.9"/>
<rect x="405.04" y="410.50" width="17.60" height="56.81" fill="#ff7070" stroke="#222" stroke-width="0.9"/>
<rect x="426.93" y="410.50" width="17.60" height="56.81" fill="#ff7070" stroke="#222" stroke-width="0.9"/>
<rect x="448.82" y="410.50" width="17.60" height="113.99" fill="#ff7070" stroke="#222" stroke-width="0.9"/>
<rect x="470.71" y="410.50" width="17.60" height="75.74" fill="#ff7070" stroke="#222" stroke-width="0.9"/>
<rect x="492.60" y="410.50" width="17.60" height="75.74" fill="#ff7070" stroke="#222" stroke-width="0.9"/>
<rect x="514.49" y="410.50" width="17.60" height="94.68" fill="#ff7070" stroke="#222" stroke-width="0.9"/>
<rect x="536.38" y="410.50" width="17.60" height="113.99" fill="#ff7070" stroke="#222" stroke-width="0.9"/>
<rect x="558.27" y="410.50" width="17.60" height="113.99" fill="#ff7070" stroke="#222" stroke-width="0.9"/>
<rect x="580.16" y="410.50" width="17.60" height="18.94" fill="#ff7070" stroke="#222" stroke-width="0.9"/>
<rect x="602.05" y="410.50" width="17.60" height="75.74" fill="#ff7070" stroke="#222" stroke-width="0.9"/>
<rect x="623.94" y="410.50" width="17.60" height="56.81" fill="#ff7070" stroke="#222" stroke-width="0.9"/>
<rect x="645.83" y="410.50" width="17.60" height="37.87" fill="#ff7070" stroke="#222" stroke-width="0.9"/>
<path d="M41.8 410.50H676.2" stroke="#000" stroke-width="1.2"/>
<path d="M63.60 350.50V356.89M60.55 350.64L66.65 356.75M60.55 356.75L66.65 350.64" stroke="#000" stroke-width="1.05"/><circle cx="63.60" cy="353.69" r="1.5" fill="#000"/>
<path d="M85.49 350.50V356.89M82.44 350.64L88.54 356.75M82.44 356.75L88.54 350.64" stroke="#000" stroke-width="1.05"/><circle cx="85.49" cy="353.69" r="1.5" fill="#000"/>
<path d="M107.38 331.56V337.96M104.33 331.71L110.43 337.81M104.33 337.81L110.43 331.71" stroke="#000" stroke-width="1.05"/><circle cx="107.38" cy="334.76" r="1.5" fill="#000"/>
<path d="M129.27 350.50V356.89M126.22 350.64L132.32 356.75M126.22 356.75L132.32 350.64" stroke="#000" stroke-width="1.05"/><circle cx="129.27" cy="353.69" r="1.5" fill="#000"/>
<path d="M151.16 350.50V356.89M148.11 350.64L154.21 356.75M148.11 356.75L154.21 350.64" stroke="#000" stroke-width="1.05"/><circle cx="151.16" cy="353.69" r="1.5" fill="#000"/>
<path d="M173.05 388.37V394.76M170.00 388.51L176.10 394.62M170.00 394.62L176.10 388.51" stroke="#000" stroke-width="1.05"/><circle cx="173.05" cy="391.56" r="1.5" fill="#000"/>
<path d="M194.94 388.37V394.76M191.89 388.51L197.99 394.62M191.89 394.62L197.99 388.51" stroke="#000" stroke-width="1.05"/><circle cx="194.94" cy="391.56" r="1.5" fill="#000"/>
<path d="M216.83 331.56V337.96M213.78 331.71L219.88 337.81M213.78 337.81L219.88 331.71" stroke="#000" stroke-width="1.05"/><circle cx="216.83" cy="334.76" r="1.5" fill="#000"/>
<path d="M238.72 369.43V375.83M235.67 369.58L241.77 375.68M235.67 375.68L241.77 369.58" stroke="#000" stroke-width="1.05"/><circle cx="238.72" cy="372.63" r="1.5" fill="#000"/>
<path d="M260.61 369.43V375.83M257.56 369.58L263.66 375.68M257.56 375.68L263.66 369.58" stroke="#000" stroke-width="1.05"/><circle cx="260.61" cy="372.63" r="1.5" fill="#000"/>
<path d="M282.50 369.43V375.83M279.45 369.58L285.55 375.68M279.45 375.68L285.55 369.58" stroke="#000" stroke-width="1.05"/><circle cx="282.50" cy="372.63" r="1.5" fill="#000"/>
<path d="M304.39 388.37V394.76M301.34 388.51L307.44 394.62M301.34 394.62L307.44 388.51" stroke="#000" stroke-width="1.05"/><circle cx="304.39" cy="391.56" r="1.5" fill="#000"/>
<path d="M326.28 331.56V337.96M323.23 331.71L329.33 337.81M323.23 337.81L329.33 331.71" stroke="#000" stroke-width="1.05"/><circle cx="326.28" cy="334.76" r="1.5" fill="#000"/>
<path d="M348.17 501.98V508.38M345.12 502.12L351.22 508.23M345.12 508.23L351.22 502.12" stroke="#000" stroke-width="1.05"/><circle cx="348.17" cy="505.18" r="1.5" fill="#000"/>
<path d="M370.06 501.98V508.38M367.01 502.12L373.11 508.23M367.01 508.23L373.11 502.12" stroke="#000" stroke-width="1.05"/><circle cx="370.06" cy="505.18" r="1.5" fill="#000"/>
<path d="M391.95 464.11V470.50M388.90 464.25L395.00 470.36M388.90 470.36L395.00 464.25" stroke="#000" stroke-width="1.05"/><circle cx="391.95" cy="467.31" r="1.5" fill="#000"/>
<path d="M413.84 464.11V470.50M410.79 464.25L416.89 470.36M410.79 470.36L416.89 464.25" stroke="#000" stroke-width="1.05"/><circle cx="413.84" cy="467.31" r="1.5" fill="#000"/>
<path d="M435.73 464.11V470.50M432.68 464.25L438.78 470.36M432.68 470.36L438.78 464.25" stroke="#000" stroke-width="1.05"/><circle cx="435.73" cy="467.31" r="1.5" fill="#000"/>
<path d="M457.62 520.91V527.31M454.57 521.06L460.67 527.16M454.57 527.16L460.67 521.06" stroke="#000" stroke-width="1.05"/><circle cx="457.62" cy="524.11" r="1.5" fill="#000"/>
<path d="M479.51 483.04V489.44M476.46 483.19L482.56 489.29M476.46 489.29L482.56 483.19" stroke="#000" stroke-width="1.05"/><circle cx="479.51" cy="486.24" r="1.5" fill="#000"/>
<path d="M501.40 483.04V489.44M498.35 483.19L504.45 489.29M498.35 489.29L504.45 483.19" stroke="#000" stroke-width="1.05"/><circle cx="501.40" cy="486.24" r="1.5" fill="#000"/>
<path d="M523.29 501.98V508.38M520.24 502.12L526.34 508.23M520.24 508.23L526.34 502.12" stroke="#000" stroke-width="1.05"/><circle cx="523.29" cy="505.18" r="1.5" fill="#000"/>
<path d="M545.18 520.91V527.31M542.13 521.06L548.23 527.16M542.13 527.16L548.23 521.06" stroke="#000" stroke-width="1.05"/><circle cx="545.18" cy="524.11" r="1.5" fill="#000"/>
<path d="M567.07 520.91V527.31M564.02 521.06L570.12 527.16M564.02 527.16L570.12 521.06" stroke="#000" stroke-width="1.05"/><circle cx="567.07" cy="524.11" r="1.5" fill="#000"/>
<path d="M588.96 426.24V432.63M585.91 426.38L592.01 432.49M585.91 432.49L592.01 426.38" stroke="#000" stroke-width="1.05"/><circle cx="588.96" cy="429.44" r="1.5" fill="#000"/>
<path d="M610.85 483.04V489.44M607.80 483.19L613.90 489.29M607.80 489.29L613.90 483.19" stroke="#000" stroke-width="1.05"/><circle cx="610.85" cy="486.24" r="1.5" fill="#000"/>
<path d="M632.74 464.11V470.50M629.69 464.25L635.79 470.36M629.69 470.36L635.79 464.25" stroke="#000" stroke-width="1.05"/><circle cx="632.74" cy="467.31" r="1.5" fill="#000"/>
<path d="M654.63 445.17V451.57M651.58 445.32L657.68 451.42M651.58 451.42L657.68 445.32" stroke="#000" stroke-width="1.05"/><circle cx="654.63" cy="448.37" r="1.5" fill="#000"/>
<rect x="41.8" y="315.6" width="634.4" height="227.4" fill="none" stroke="#000" stroke-width="1.3"/>
<path d="M41.8 543.04h3.2M676.2 543.04h-3.2M41.8 524.11h6.0M676.2 524.11h-6.0M41.8 505.18h3.2M676.2 505.18h-3.2M41.8 486.24h6.0M676.2 486.24h-6.0M41.8 467.31h3.2M676.2 467.31h-3.2M41.8 448.37h6.0M676.2 448.37h-6.0M41.8 429.44h3.2M676.2 429.44h-3.2M41.8 410.50h6.0M676.2 410.50h-6.0M41.8 391.56h3.2M676.2 391.56h-3.2M41.8 372.63h6.0M676.2 372.63h-6.0M41.8 353.69h3.2M676.2 353.69h-3.2M41.8 334.76h6.0M676.2 334.76h-6.0M41.8 315.82h3.2M676.2 315.82h-3.2M63.60 315.6v3.6M63.60 543.0v-3.6M85.49 315.6v3.6M85.49 543.0v-3.6M107.38 315.6v3.6M107.38 543.0v-3.6M129.27 315.6v3.6M129.27 543.0v-3.6M151.16 315.6v3.6M151.16 543.0v-3.6M173.05 315.6v3.6M173.05 543.0v-3.6M194.94 315.6v3.6M194.94 543.0v-3.6M216.83 315.6v3.6M216.83 543.0v-3.6M238.72 315.6v3.6M238.72 543.0v-3.6M260.61 315.6v3.6M260.61 543.0v-3.6M282.50 315.6v3.6M282.50 543.0v-3.6M304.39 315.6v3.6M304.39 543.0v-3.6M326.28 315.6v3.6M326.28 543.0v-3.6M348.17 315.6v3.6M348.17 543.0v-3.6M370.06 315.6v3.6M370.06 543.0v-3.6M391.95 315.6v3.6M391.95 543.0v-3.6M413.84 315.6v3.6M413.84 543.0v-3.6M435.73 315.6v3.6M435.73 543.0v-3.6M457.62 315.6v3.6M457.62 543.0v-3.6M479.51 315.6v3.6M479.51 543.0v-3.6M501.40 315.6v3.6M501.40 543.0v-3.6M523.29 315.6v3.6M523.29 543.0v-3.6M545.18 315.6v3.6M545.18 543.0v-3.6M567.07 315.6v3.6M567.07 543.0v-3.6M588.96 315.6v3.6M588.96 543.0v-3.6M610.85 315.6v3.6M610.85 543.0v-3.6M632.74 315.6v3.6M632.74 543.0v-3.6M654.63 315.6v3.6M654.63 543.0v-3.6" stroke="#000" stroke-width="1.1"/>
<text x="35.6" y="528.71" font-size="13" text-anchor="end">-3</text>
<text x="35.6" y="490.84" font-size="13" text-anchor="end">-2</text>
<text x="35.6" y="452.97" font-size="13" text-anchor="end">-1</text>
<text x="35.6" y="415.10" font-size="13" text-anchor="end">0</text>
<text x="35.6" y="377.23" font-size="13" text-anchor="end">1</text>
<text x="35.6" y="339.36" font-size="13" text-anchor="end">2</text>
<text transform="translate(10.8 429.1) rotate(-90)" font-size="13.5" text-anchor="middle">Current (nA)</text>
<rect x="52.0" y="547.9" width="284.4" height="22.9" fill="none" stroke="#0000ff" stroke-width="1.8"/>
<rect x="337.4" y="547.9" width="328.0" height="22.9" fill="none" stroke="#ff0000" stroke-width="1.8"/>
<rect x="54.40" y="550.30" width="6.13" height="6.00" fill="#808080"/><rect x="66.67" y="550.30" width="6.13" height="6.00" fill="#808080"/><rect x="60.53" y="556.30" width="6.13" height="6.00" fill="#808080"/><rect x="54.40" y="562.30" width="6.13" height="6.00" fill="#808080"/><rect x="66.67" y="562.30" width="6.13" height="6.00" fill="#808080"/><path d="M54.40 550.30H72.80M54.40 550.30V568.30M54.40 556.30H72.80M60.53 550.30V568.30M54.40 562.30H72.80M66.67 550.30V568.30M54.40 568.30H72.80M72.80 550.30V568.30" stroke="#333" stroke-width="0.80" fill="none"/>
<rect x="76.29" y="550.30" width="6.13" height="6.00" fill="#808080"/><rect x="88.56" y="550.30" width="6.13" height="6.00" fill="#808080"/><rect x="76.29" y="562.30" width="6.13" height="6.00" fill="#808080"/><rect x="88.56" y="562.30" width="6.13" height="6.00" fill="#808080"/><path d="M76.29 550.30H94.69M76.29 550.30V568.30M76.29 556.30H94.69M82.42 550.30V568.30M76.29 562.30H94.69M88.56 550.30V568.30M76.29 568.30H94.69M94.69 550.30V568.30" stroke="#333" stroke-width="0.80" fill="none"/>
<rect x="98.18" y="550.30" width="6.13" height="6.00" fill="#808080"/><rect x="110.45" y="550.30" width="6.13" height="6.00" fill="#808080"/><rect x="104.31" y="556.30" width="6.13" height="6.00" fill="#808080"/><rect x="110.45" y="556.30" width="6.13" height="6.00" fill="#808080"/><rect x="98.18" y="562.30" width="6.13" height="6.00" fill="#808080"/><rect x="110.45" y="562.30" width="6.13" height="6.00" fill="#808080"/><path d="M98.18 550.30H116.58M98.18 550.30V568.30M98.18 556.30H116.58M104.31 550.30V568.30M98.18 562.30H116.58M110.45 550.30V568.30M98.18 568.30H116.58M116.58 550.30V568.30" stroke="#333" stroke-width="0.80" fill="none"/>
<rect x="132.34" y="550.30" width="6.13" height="6.00" fill="#808080"/><rect x="126.20" y="556.30" width="6.13" height="6.00" fill="#808080"/><rect x="120.07" y="562.30" width="6.13" height="6.00" fill="#808080"/><rect x="132.34" y="562.30" width="6.13" height="6.00" fill="#808080"/><path d="M120.07 550.30H138.47M120.07 550.30V568.30M120.07 556.30H138.47M126.20 550.30V568.30M120.07 562.30H138.47M132.34 550.30V568.30M120.07 568.30H138.47M138.47 550.30V568.30" stroke="#333" stroke-width="0.80" fill="none"/>
<rect x="141.96" y="550.30" width="6.13" height="6.00" fill="#808080"/><rect x="141.96" y="556.30" width="6.13" height="6.00" fill="#808080"/><rect x="148.09" y="556.30" width="6.13" height="6.00" fill="#808080"/><rect x="141.96" y="562.30" width="6.13" height="6.00" fill="#808080"/><rect x="154.23" y="562.30" width="6.13" height="6.00" fill="#808080"/><path d="M141.96 550.30H160.36M141.96 550.30V568.30M141.96 556.30H160.36M148.09 550.30V568.30M141.96 562.30H160.36M154.23 550.30V568.30M141.96 568.30H160.36M160.36 550.30V568.30" stroke="#333" stroke-width="0.80" fill="none"/>
<rect x="163.85" y="550.30" width="6.13" height="6.00" fill="#808080"/><rect x="169.98" y="550.30" width="6.13" height="6.00" fill="#808080"/><rect x="176.12" y="550.30" width="6.13" height="6.00" fill="#808080"/><rect x="169.98" y="556.30" width="6.13" height="6.00" fill="#808080"/><rect x="163.85" y="562.30" width="6.13" height="6.00" fill="#808080"/><rect x="176.12" y="562.30" width="6.13" height="6.00" fill="#808080"/><path d="M163.85 550.30H182.25M163.85 550.30V568.30M163.85 556.30H182.25M169.98 550.30V568.30M163.85 562.30H182.25M176.12 550.30V568.30M163.85 568.30H182.25M182.25 550.30V568.30" stroke="#333" stroke-width="0.80" fill="none"/>
<rect x="185.74" y="550.30" width="6.13" height="6.00" fill="#808080"/><rect x="198.01" y="550.30" width="6.13" height="6.00" fill="#808080"/><rect x="191.87" y="556.30" width="6.13" height="6.00" fill="#808080"/><rect x="185.74" y="562.30" width="6.13" height="6.00" fill="#808080"/><rect x="191.87" y="562.30" width="6.13" height="6.00" fill="#808080"/><rect x="198.01" y="562.30" width="6.13" height="6.00" fill="#808080"/><path d="M185.74 550.30H204.14M185.74 550.30V568.30M185.74 556.30H204.14M191.87 550.30V568.30M185.74 562.30H204.14M198.01 550.30V568.30M185.74 568.30H204.14M204.14 550.30V568.30" stroke="#333" stroke-width="0.80" fill="none"/>
<rect x="207.63" y="550.30" width="6.13" height="6.00" fill="#808080"/><rect x="213.76" y="556.30" width="6.13" height="6.00" fill="#808080"/><rect x="207.63" y="562.30" width="6.13" height="6.00" fill="#808080"/><rect x="219.90" y="562.30" width="6.13" height="6.00" fill="#808080"/><path d="M207.63 550.30H226.03M207.63 550.30V568.30M207.63 556.30H226.03M213.76 550.30V568.30M207.63 562.30H226.03M219.90 550.30V568.30M207.63 568.30H226.03M226.03 550.30V568.30" stroke="#333" stroke-width="0.80" fill="none"/>
<rect x="229.52" y="550.30" width="6.13" height="6.00" fill="#808080"/><rect x="241.79" y="550.30" width="6.13" height="6.00" fill="#808080"/><rect x="241.79" y="556.30" width="6.13" height="6.00" fill="#808080"/><rect x="241.79" y="562.30" width="6.13" height="6.00" fill="#808080"/><path d="M229.52 550.30H247.92M229.52 550.30V568.30M229.52 556.30H247.92M235.65 550.30V568.30M229.52 562.30H247.92M241.79 550.30V568.30M229.52 568.30H247.92M247.92 550.30V568.30" stroke="#333" stroke-width="0.80" fill="none"/>
<rect x="251.41" y="550.30" width="6.13" height="6.00" fill="#808080"/><rect x="263.68" y="550.30" width="6.13" height="6.00" fill="#808080"/><rect x="251.41" y="556.30" width="6.13" height="6.00" fill="#808080"/><rect x="257.54" y="556.30" width="6.13" height="6.00" fill="#808080"/><rect x="251.41" y="562.30" width="6.13" height="6.00" fill="#808080"/><rect x="263.68" y="562.30" width="6.13" height="6.00" fill="#808080"/><path d="M251.41 550.30H269.81M251.41 550.30V568.30M251.41 556.30H269.81M257.54 550.30V568.30M251.41 562.30H269.81M263.68 550.30V568.30M251.41 568.30H269.81M269.81 550.30V568.30" stroke="#333" stroke-width="0.80" fill="none"/>
<rect x="273.30" y="550.30" width="6.13" height="6.00" fill="#808080"/><rect x="285.57" y="550.30" width="6.13" height="6.00" fill="#808080"/><rect x="279.43" y="556.30" width="6.13" height="6.00" fill="#808080"/><rect x="285.57" y="556.30" width="6.13" height="6.00" fill="#808080"/><rect x="273.30" y="562.30" width="6.13" height="6.00" fill="#808080"/><rect x="279.43" y="562.30" width="6.13" height="6.00" fill="#808080"/><rect x="285.57" y="562.30" width="6.13" height="6.00" fill="#808080"/><path d="M273.30 550.30H291.70M273.30 550.30V568.30M273.30 556.30H291.70M279.43 550.30V568.30M273.30 562.30H291.70M285.57 550.30V568.30M273.30 568.30H291.70M291.70 550.30V568.30" stroke="#333" stroke-width="0.80" fill="none"/>
<rect x="295.19" y="550.30" width="6.13" height="6.00" fill="#808080"/><rect x="307.46" y="550.30" width="6.13" height="6.00" fill="#808080"/><rect x="301.32" y="556.30" width="6.13" height="6.00" fill="#808080"/><rect x="295.19" y="562.30" width="6.13" height="6.00" fill="#808080"/><path d="M295.19 550.30H313.59M295.19 550.30V568.30M295.19 556.30H313.59M301.32 550.30V568.30M295.19 562.30H313.59M307.46 550.30V568.30M295.19 568.30H313.59M313.59 550.30V568.30" stroke="#333" stroke-width="0.80" fill="none"/>
<rect x="317.08" y="550.30" width="6.13" height="6.00" fill="#808080"/><rect x="317.08" y="562.30" width="6.13" height="6.00" fill="#808080"/><rect x="329.35" y="562.30" width="6.13" height="6.00" fill="#808080"/><path d="M317.08 550.30H335.48M317.08 550.30V568.30M317.08 556.30H335.48M323.21 550.30V568.30M317.08 562.30H335.48M329.35 550.30V568.30M317.08 568.30H335.48M335.48 550.30V568.30" stroke="#333" stroke-width="0.80" fill="none"/>
<rect x="338.97" y="550.30" width="6.13" height="6.00" fill="#808080"/><rect x="345.10" y="550.30" width="6.13" height="6.00" fill="#808080"/><rect x="351.24" y="550.30" width="6.13" height="6.00" fill="#808080"/><rect x="345.10" y="556.30" width="6.13" height="6.00" fill="#808080"/><rect x="345.10" y="562.30" width="6.13" height="6.00" fill="#808080"/><path d="M338.97 550.30H357.37M338.97 550.30V568.30M338.97 556.30H357.37M345.10 550.30V568.30M338.97 562.30H357.37M351.24 550.30V568.30M338.97 568.30H357.37M357.37 550.30V568.30" stroke="#333" stroke-width="0.80" fill="none"/>
<rect x="366.99" y="550.30" width="6.13" height="6.00" fill="#808080"/><rect x="373.13" y="550.30" width="6.13" height="6.00" fill="#808080"/><rect x="366.99" y="556.30" width="6.13" height="6.00" fill="#808080"/><rect x="366.99" y="562.30" width="6.13" height="6.00" fill="#808080"/><path d="M360.86 550.30H379.26M360.86 550.30V568.30M360.86 556.30H379.26M366.99 550.30V568.30M360.86 562.30H379.26M373.13 550.30V568.30M360.86 568.30H379.26M379.26 550.30V568.30" stroke="#333" stroke-width="0.80" fill="none"/>
<rect x="382.75" y="550.30" width="6.13" height="6.00" fill="#808080"/><rect x="395.02" y="550.30" width="6.13" height="6.00" fill="#808080"/><rect x="388.88" y="556.30" width="6.13" height="6.00" fill="#808080"/><rect x="388.88" y="562.30" width="6.13" height="6.00" fill="#808080"/><path d="M382.75 550.30H401.15M382.75 550.30V568.30M382.75 556.30H401.15M388.88 550.30V568.30M382.75 562.30H401.15M395.02 550.30V568.30M382.75 568.30H401.15M401.15 550.30V568.30" stroke="#333" stroke-width="0.80" fill="none"/>
<rect x="404.64" y="550.30" width="6.13" height="6.00" fill="#808080"/><rect x="410.77" y="550.30" width="6.13" height="6.00" fill="#808080"/><rect x="416.91" y="550.30" width="6.13" height="6.00" fill="#808080"/><rect x="410.77" y="556.30" width="6.13" height="6.00" fill="#808080"/><rect x="404.64" y="562.30" width="6.13" height="6.00" fill="#808080"/><rect x="410.77" y="562.30" width="6.13" height="6.00" fill="#808080"/><path d="M404.64 550.30H423.04M404.64 550.30V568.30M404.64 556.30H423.04M410.77 550.30V568.30M404.64 562.30H423.04M416.91 550.30V568.30M404.64 568.30H423.04M423.04 550.30V568.30" stroke="#333" stroke-width="0.80" fill="none"/>
<rect x="426.53" y="550.30" width="6.13" height="6.00" fill="#808080"/><rect x="432.66" y="550.30" width="6.13" height="6.00" fill="#808080"/><rect x="438.80" y="550.30" width="6.13" height="6.00" fill="#808080"/><rect x="432.66" y="556.30" width="6.13" height="6.00" fill="#808080"/><path d="M426.53 550.30H444.93M426.53 550.30V568.30M426.53 556.30H444.93M432.66 550.30V568.30M426.53 562.30H444.93M438.80 550.30V568.30M426.53 568.30H444.93M444.93 550.30V568.30" stroke="#333" stroke-width="0.80" fill="none"/>
<rect x="448.42" y="550.30" width="6.13" height="6.00" fill="#808080"/><rect x="454.55" y="550.30" width="6.13" height="6.00" fill="#808080"/><rect x="460.69" y="550.30" width="6.13" height="6.00" fill="#808080"/><rect x="448.42" y="556.30" width="6.13" height="6.00" fill="#808080"/><rect x="454.55" y="556.30" width="6.13" height="6.00" fill="#808080"/><rect x="454.55" y="562.30" width="6.13" height="6.00" fill="#808080"/><path d="M448.42 550.30H466.82M448.42 550.30V568.30M448.42 556.30H466.82M454.55 550.30V568.30M448.42 562.30H466.82M460.69 550.30V568.30M448.42 568.30H466.82M466.82 550.30V568.30" stroke="#333" stroke-width="0.80" fill="none"/>
<rect x="470.31" y="550.30" width="6.13" height="6.00" fill="#808080"/><rect x="476.44" y="550.30" width="6.13" height="6.00" fill="#808080"/><rect x="482.58" y="550.30" width="6.13" height="6.00" fill="#808080"/><rect x="476.44" y="556.30" width="6.13" height="6.00" fill="#808080"/><rect x="482.58" y="556.30" width="6.13" height="6.00" fill="#808080"/><rect x="476.44" y="562.30" width="6.13" height="6.00" fill="#808080"/><path d="M470.31 550.30H488.71M470.31 550.30V568.30M470.31 556.30H488.71M476.44 550.30V568.30M470.31 562.30H488.71M482.58 550.30V568.30M470.31 568.30H488.71M488.71 550.30V568.30" stroke="#333" stroke-width="0.80" fill="none"/>
<rect x="492.20" y="550.30" width="6.13" height="6.00" fill="#808080"/><rect x="498.33" y="550.30" width="6.13" height="6.00" fill="#808080"/><rect x="498.33" y="556.30" width="6.13" height="6.00" fill="#808080"/><rect x="498.33" y="562.30" width="6.13" height="6.00" fill="#808080"/><path d="M492.20 550.30H510.60M492.20 550.30V568.30M492.20 556.30H510.60M498.33 550.30V568.30M492.20 562.30H510.60M504.47 550.30V568.30M492.20 568.30H510.60M510.60 550.30V568.30" stroke="#333" stroke-width="0.80" fill="none"/>
<rect x="514.09" y="550.30" width="6.13" height="6.00" fill="#808080"/><rect x="520.22" y="550.30" width="6.13" height="6.00" fill="#808080"/><rect x="514.09" y="556.30" width="6.13" height="6.00" fill="#808080"/><rect x="520.22" y="556.30" width="6.13" height="6.00" fill="#808080"/><rect x="520.22" y="562.30" width="6.13" height="6.00" fill="#808080"/><path d="M514.09 550.30H532.49M514.09 550.30V568.30M514.09 556.30H532.49M520.22 550.30V568.30M514.09 562.30H532.49M526.36 550.30V568.30M514.09 568.30H532.49M532.49 550.30V568.30" stroke="#333" stroke-width="0.80" fill="none"/>
<rect x="535.98" y="550.30" width="6.13" height="6.00" fill="#808080"/><rect x="542.11" y="550.30" width="6.13" height="6.00" fill="#808080"/><rect x="548.25" y="550.30" width="6.13" height="6.00" fill="#808080"/><rect x="535.98" y="556.30" width="6.13" height="6.00" fill="#808080"/><rect x="542.11" y="562.30" width="6.13" height="6.00" fill="#808080"/><path d="M535.98 550.30H554.38M535.98 550.30V568.30M535.98 556.30H554.38M542.11 550.30V568.30M535.98 562.30H554.38M548.25 550.30V568.30M535.98 568.30H554.38M554.38 550.30V568.30" stroke="#333" stroke-width="0.80" fill="none"/>
<rect x="564.00" y="550.30" width="6.13" height="6.00" fill="#808080"/><rect x="570.14" y="550.30" width="6.13" height="6.00" fill="#808080"/><rect x="557.87" y="556.30" width="6.13" height="6.00" fill="#808080"/><rect x="564.00" y="556.30" width="6.13" height="6.00" fill="#808080"/><rect x="564.00" y="562.30" width="6.13" height="6.00" fill="#808080"/><path d="M557.87 550.30H576.27M557.87 550.30V568.30M557.87 556.30H576.27M564.00 550.30V568.30M557.87 562.30H576.27M570.14 550.30V568.30M557.87 568.30H576.27M576.27 550.30V568.30" stroke="#333" stroke-width="0.80" fill="none"/>
<rect x="579.76" y="550.30" width="6.13" height="6.00" fill="#808080"/><rect x="592.03" y="550.30" width="6.13" height="6.00" fill="#808080"/><rect x="585.89" y="556.30" width="6.13" height="6.00" fill="#808080"/><path d="M579.76 550.30H598.16M579.76 550.30V568.30M579.76 556.30H598.16M585.89 550.30V568.30M579.76 562.30H598.16M592.03 550.30V568.30M579.76 568.30H598.16M598.16 550.30V568.30" stroke="#333" stroke-width="0.80" fill="none"/>
<rect x="601.65" y="550.30" width="6.13" height="6.00" fill="#808080"/><rect x="607.78" y="550.30" width="6.13" height="6.00" fill="#808080"/><rect x="613.92" y="550.30" width="6.13" height="6.00" fill="#808080"/><rect x="601.65" y="556.30" width="6.13" height="6.00" fill="#808080"/><rect x="601.65" y="562.30" width="6.13" height="6.00" fill="#808080"/><rect x="607.78" y="562.30" width="6.13" height="6.00" fill="#808080"/><path d="M601.65 550.30H620.05M601.65 550.30V568.30M601.65 556.30H620.05M607.78 550.30V568.30M601.65 562.30H620.05M613.92 550.30V568.30M601.65 568.30H620.05M620.05 550.30V568.30" stroke="#333" stroke-width="0.80" fill="none"/>
<rect x="623.54" y="550.30" width="6.13" height="6.00" fill="#808080"/><rect x="635.81" y="550.30" width="6.13" height="6.00" fill="#808080"/><rect x="629.67" y="562.30" width="6.13" height="6.00" fill="#808080"/><path d="M623.54 550.30H641.94M623.54 550.30V568.30M623.54 556.30H641.94M629.67 550.30V568.30M623.54 562.30H641.94M635.81 550.30V568.30M623.54 568.30H641.94M641.94 550.30V568.30" stroke="#333" stroke-width="0.80" fill="none"/>
<rect x="645.43" y="550.30" width="6.13" height="6.00" fill="#808080"/><rect x="657.70" y="550.30" width="6.13" height="6.00" fill="#808080"/><rect x="651.56" y="556.30" width="6.13" height="6.00" fill="#808080"/><rect x="657.70" y="556.30" width="6.13" height="6.00" fill="#808080"/><rect x="651.56" y="562.30" width="6.13" height="6.00" fill="#808080"/><path d="M645.43 550.30H663.83M645.43 550.30V568.30M645.43 556.30H663.83M651.56 550.30V568.30M645.43 562.30H663.83M657.70 550.30V568.30M645.43 568.30H663.83M663.83 550.30V568.30" stroke="#333" stroke-width="0.80" fill="none"/>
<text x="30.2" y="566.6" font-size="13" fill="#0000ff">‘X’</text>
<text x="672.2" y="566.6" font-size="13" fill="#ff0000">‘T’</text>
<text x="156.6" y="597" font-size="13">e</text>
<rect x="196.2" y="743" width="126.8" height="50.5" fill="none" stroke="#ff0000" stroke-width="1.8" stroke-dasharray="1.8 1.8"/>
<rect x="334.6" y="601.5" width="126.7" height="51.2" fill="none" stroke="#0000ff" stroke-width="1.8" stroke-dasharray="1.8 1.8"/>
<path d="M183.71 784.40 L185.18 784.39 L186.65 784.39 L188.11 784.39 L189.58 784.39 L191.05 784.39 L192.52 784.39 L193.98 784.39 L195.45 784.39 L196.92 784.39 L198.39 784.39 L199.85 784.39 L201.32 784.38 L202.79 784.38 L204.26 784.38 L205.72 784.38 L207.19 784.38 L208.66 784.37 L210.13 784.37 L211.59 784.37 L213.06 784.36 L214.53 784.36 L216.00 784.36 L217.46 784.35 L218.93 784.35 L220.40 784.34 L221.87 784.33 L223.33 784.33 L224.80 784.32 L226.27 784.31 L227.74 784.30 L229.20 784.29 L230.67 784.28 L232.14 784.27 L233.61 784.26 L235.07 784.24 L236.54 784.22 L238.01 784.20 L239.48 784.18 L240.94 784.16 L242.41 784.14 L243.88 784.11 L245.35 784.08 L246.81 784.04 L248.28 784.01 L249.75 783.97 L251.22 783.92 L252.68 783.87 L254.15 783.82 L255.62 783.75 L257.09 783.69 L258.55 783.61 L260.02 783.53 L261.49 783.44 L262.96 783.34 L264.42 783.23 L265.89 783.10 L267.36 782.97 L268.83 782.82 L270.29 782.65 L271.76 782.47 L273.23 782.27 L274.70 782.05 L276.16 781.81 L277.63 781.54 L279.10 781.25 L280.57 780.92 L282.03 780.56 L283.50 780.17 L284.97 779.73 L286.44 779.26 L287.90 778.74 L289.37 778.16 L290.84 777.53 L292.31 776.84 L293.77 776.08 L295.24 775.25 L296.71 774.35 L298.18 773.35 L299.64 772.27 L301.11 771.09 L302.58 769.81 L304.05 768.42 L305.51 766.90 L306.98 765.26 L308.45 763.49 L309.92 761.58 L311.38 759.52 L312.85 757.31 L314.32 754.94 L315.79 752.40 L317.25 749.70 L318.72 746.84 L320.19 743.80 L321.66 740.60 L323.12 737.23 L324.59 733.70 L326.06 730.02 L327.53 726.20 L328.99 722.25 L330.46 718.18 L331.93 714.01 L333.40 709.76 L334.86 705.44 L336.33 701.08 L337.80 696.70 L339.27 692.32 L340.73 687.96 L342.20 683.64 L343.67 679.39 L345.14 675.22 L346.60 671.15 L348.07 667.20 L349.54 663.38 L351.01 659.70 L352.47 656.17 L353.94 652.80 L355.41 649.60 L356.88 646.56 L358.34 643.70 L359.81 641.00 L361.28 638.46 L362.75 636.09 L364.21 633.88 L365.68 631.82 L367.15 629.91 L368.62 628.14 L370.08 626.50 L371.55 624.98 L373.02 623.59 L374.49 622.31 L375.95 621.13 L377.42 620.05 L378.89 619.05 L380.36 618.15 L381.82 617.32 L383.29 616.56 L384.76 615.87 L386.23 615.24 L387.69 614.66 L389.16 614.14 L390.63 613.67 L392.10 613.23 L393.56 612.84 L395.03 612.48 L396.50 612.15 L397.97 611.86 L399.43 611.59 L400.90 611.35 L402.37 611.13 L403.84 610.93 L405.30 610.75 L406.77 610.58 L408.24 610.43 L409.71 610.30 L411.17 610.17 L412.64 610.06 L414.11 609.96 L415.58 609.87 L417.04 609.79 L418.51 609.71 L419.98 609.65 L421.45 609.58 L422.91 609.53 L424.38 609.48 L425.85 609.43 L427.32 609.39 L428.78 609.36 L430.25 609.32 L431.72 609.29 L433.19 609.26 L434.65 609.24 L436.12 609.22 L437.59 609.20 L439.06 609.18 L440.52 609.16 L441.99 609.14 L443.46 609.13 L444.93 609.12 L446.39 609.11 L447.86 609.10 L449.33 609.09 L450.80 609.08 L452.26 609.07 L453.73 609.07 L455.20 609.06 L456.67 609.05 L458.13 609.05 L459.60 609.04 L461.07 609.04 L462.54 609.04 L464.00 609.03 L465.47 609.03 L466.94 609.03 L468.41 609.02 L469.87 609.02" stroke="#000" stroke-width="1.7" fill="none"/>
<defs><radialGradient id="gb" cx="0.4" cy="0.35" r="0.65"><stop offset="0" stop-color="#d8e8f8"/><stop offset="0.5" stop-color="#7fa8d8"/><stop offset="1" stop-color="#4a7cc0"/></radialGradient><radialGradient id="gb2" cx="0.4" cy="0.35" r="0.65"><stop offset="0" stop-color="#9cc4f4"/><stop offset="0.5" stop-color="#3a7ee0"/><stop offset="1" stop-color="#1f5fc0"/></radialGradient></defs>
<circle cx="206.12" cy="784.38" r="3.50" fill="#5ec8e0"/>
<circle cx="205.72" cy="784.38" r="3.40" fill="#6ab51f"/>
<path d="M225.24 781.80l5 5M230.24 781.80l-5 5" stroke="#f7a0a0" stroke-width="0.9"/>
<polygon points="224.64,784.30 230.40,780.70 230.40,787.90" fill="#ff6a00"/>
<polygon points="252.95,785.82 249.75,787.67 246.55,785.82 246.55,782.12 249.75,780.27 252.95,782.12" fill="#e84545"/>
<circle cx="271.76" cy="782.47" r="3.4" fill="url(#gb2)"/>
<path d="M293.77 776.08h4M295.77 774.08v4" stroke="#2ecc71" stroke-width="0.8" transform="translate(-2 -2)"/>
<polygon points="315.79,748.20 316.82,750.98 319.78,751.10 317.47,752.95 318.26,755.80 315.79,754.17 313.32,755.80 314.11,752.95 311.79,751.10 314.75,750.98" fill="#666"/>
<polygon transform="translate(-1.2 1.2)" points="359.81,637.00 360.80,639.64 363.62,639.76 361.41,641.52 362.16,644.23 359.81,642.68 357.46,644.23 358.21,641.52 356.01,639.76 358.83,639.64" fill="#e8a020"/>
<polygon points="364.41,640.40 358.01,636.40 358.01,644.40" fill="#25d0c8"/>
<circle cx="380.03" cy="617.32" r="3.40" fill="#ff6a10"/>
<circle cx="382.43" cy="617.32" r="3.7" fill="url(#gb)"/>
<path d="M403.84 610.93l2 2M412.84 610.93l-2 2" stroke="#3c3" stroke-width="0.8" transform="translate(-4.5 -1)"/>
<polygon points="403.84,607.13 407.64,610.93 403.84,614.73 400.04,610.93" fill="#c07ad8"/>
<polygon points="432.25,608.63 426.81,605.23 426.81,612.03" fill="#1f6fe0"/>
<circle cx="425.85" cy="609.43" r="3.50" fill="#7b4a44"/>
<rect x="184.1" y="592.1" width="285.5" height="209.5" fill="none" stroke="#6a6a6a" stroke-width="1.5"/>
<path d="M191.05 801.6v-2.2M191.05 592.1v2.2M220.40 801.6v-3.6M220.40 592.1v3.6M249.75 801.6v-2.2M249.75 592.1v2.2M279.10 801.6v-3.6M279.10 592.1v3.6M308.45 801.6v-2.2M308.45 592.1v2.2M337.80 801.6v-3.6M337.80 592.1v3.6M367.15 801.6v-2.2M367.15 592.1v2.2M396.50 801.6v-3.6M396.50 592.1v3.6M425.85 801.6v-2.2M425.85 592.1v2.2M455.20 801.6v-3.6M455.20 592.1v3.6M184.1 784.40h3.6M469.6 784.40h-3.6M184.1 731.78h3.6M469.6 731.78h-3.6M184.1 679.16h3.6M469.6 679.16h-3.6M184.1 626.54h3.6M469.6 626.54h-3.6" stroke="#333" stroke-width="1"/>
<text x="220.40" y="814.8" font-size="10.5" text-anchor="middle">-8</text>
<text x="279.10" y="814.8" font-size="10.5" text-anchor="middle">-4</text>
<text x="337.80" y="814.8" font-size="10.5" text-anchor="middle">0</text>
<text x="396.50" y="814.8" font-size="10.5" text-anchor="middle">4</text>
<text x="455.20" y="814.8" font-size="10.5" text-anchor="middle">8</text>
<text x="180.4" y="788.40" font-size="10.5" text-anchor="end">0.0</text>
<text x="180.4" y="735.78" font-size="10.5" text-anchor="end">0.3</text>
<text x="180.4" y="683.16" font-size="10.5" text-anchor="end">0.6</text>
<text x="180.4" y="630.54" font-size="10.5" text-anchor="end">0.9</text>
<text x="305" y="831.8" font-size="11">Scaled <tspan font-style="italic">I</tspan><tspan font-size="7.5" dy="2.5">1</tspan></text>
<text transform="translate(154.2 696.6) rotate(-90)" font-size="11.3" text-anchor="middle">Neuronal output</text>
<text x="259.9" y="739" font-size="12.6" text-anchor="middle" fill="#ff0000">‘T’</text>
<text x="404.6" y="671.2" font-size="12.6" text-anchor="middle" fill="#0000ff">‘X’</text>
</svg></body></html>
